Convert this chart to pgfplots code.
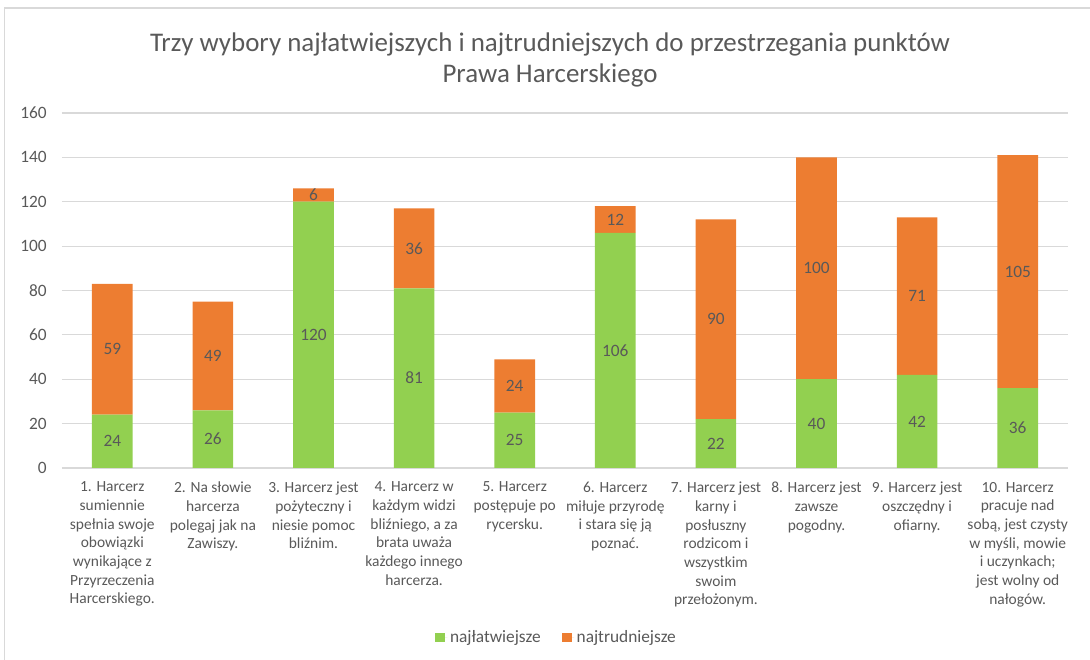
\documentclass[border=0pt]{standalone}
\usepackage{pgfplots}
\pgfplotsset{compat=1.18}
\usepackage{pgfplotstable}
\usepackage{fontspec}
\setmainfont{Carlito}
\definecolor{cgreen}{HTML}{92D050}
\definecolor{corange}{HTML}{ED7D31}
\definecolor{ctext}{HTML}{595959}
\definecolor{cgrid}{HTML}{D9D9D9}

\pgfplotstableread{
x easy hard
0 24 59
1 26 49
2 120 6
3 81 36
4 25 24
5 106 12
6 22 90
7 40 100
8 42 71
9 36 105
}\data

\begin{document}
\begin{tikzpicture}
\path[use as bounding box] (-46.5pt,-144pt) rectangle (771pt,351pt);
\draw[cgrid, line width=0.8pt] (-43pt,-144pt) -- (-43pt,345pt) -- (771pt,345pt);
\node[ctext, align=center, font={\fontsize{20.2}{23.5}\selectfont}] at (366pt,306pt)
  {Trzy wybory najłatwiejszych i najtrudniejszych do przestrzegania punktów\\Prawa Harcerskiego};
\begin{axis}[
  at={(0pt,0pt)}, anchor=south west,
  scale only axis,
  width=754.5pt, height=266.25pt,
  ybar stacked,
  bar width=30.5pt,
  xmin=-0.5, xmax=9.5,
  ymin=0, ymax=160,
  ytick={0,20,...,160},
  xtick=data,
  xticklabels={
    {1. Harcerz\\sumiennie\\spełnia swoje\\obowiązki\\wynikające z\\Przyrzeczenia\\Harcerskiego.},
    {2. Na słowie\\harcerza\\polegaj jak na\\Zawiszy.},
    {3. Harcerz jest\\pożyteczny i\\niesie pomoc\\bliźnim.},
    {4. Harcerz w\\każdym widzi\\bliźniego, a za\\brata uważa\\każdego innego\\harcerza.},
    {5. Harcerz\\postępuje po\\rycersku.},
    {6. Harcerz\\miłuje przyrodę\\i stara się ją\\poznać.},
    {7. Harcerz jest\\karny i\\posłuszny\\rodzicom i\\wszystkim\\swoim\\przełożonym.},
    {8. Harcerz jest\\zawsze\\pogodny.},
    {9. Harcerz jest\\oszczędny i\\ofiarny.},
    {10. Harcerz\\pracuje nad\\sobą, jest czysty\\w myśli, mowie\\i uczynkach;\\jest wolny od\\nałogów.}
  },
  xticklabel style={align=center, anchor=north, text=ctext,
    font={\fontsize{11.6}{14}\selectfont}, yshift=-7pt},
  yticklabel style={text=ctext, font={\fontsize{13}{15}\selectfont}, xshift=-8pt},
  /pgf/number format/assume math mode=true,
  major tick length=0pt,
  axis x line*=bottom,
  axis y line*=left,
  y axis line style={draw=none},
  x axis line style={cgrid, line width=0.8pt},
  ymajorgrids,
  grid style={cgrid, line width=0.8pt},
  legend style={at={(0.492,-0.477)}, anchor=center, draw=none,
    legend columns=2, font={\fontsize{13}{15}\selectfont}, text=ctext,
    /tikz/every even column/.append style={column sep=14pt}},
  legend image code/.code={\fill[#1] (0pt,-3.6pt) rectangle (7.2pt,3.6pt);\path (0pt,0pt) -- (9pt,0pt);},
  nodes near coords,
  every node near coord/.append style={text=ctext, font={\fontsize{13}{15}\selectfont},
    anchor=center},
]
\addplot[fill=cgreen, draw=none] table[x=x, y=easy] {\data};
\addlegendentry{najłatwiejsze}
\addplot[fill=corange, draw=none] table[x=x, y=hard] {\data};
\addlegendentry{najtrudniejsze}
\end{axis}
\end{tikzpicture}
\end{document}
